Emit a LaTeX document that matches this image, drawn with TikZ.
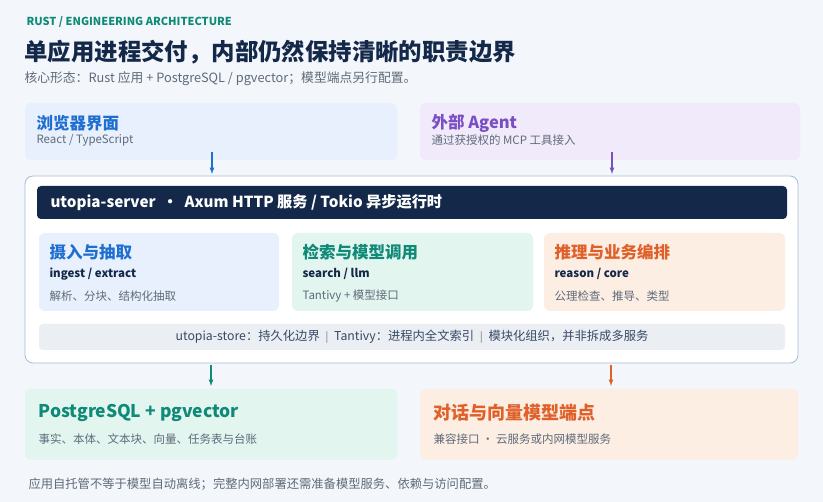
\documentclass[tikz,border=0pt]{standalone}
\usepackage{fontspec}
\setmainfont{Noto Sans CJK SC}
\usepackage{tikz}
\usetikzlibrary{positioning}
\definecolor{bgpage}{HTML}{F3F6FA}
\definecolor{navy}{HTML}{14294A}
\definecolor{tealc}{HTML}{0F8A78}
\definecolor{bluec}{HTML}{1F6FD1}
\definecolor{purplec}{HTML}{7A4FC4}
\definecolor{orangec}{HTML}{E0602A}
\definecolor{grayc}{HTML}{5F6B7A}
\definecolor{bluebg}{HTML}{E7F0FC}
\definecolor{purplebg}{HTML}{F1EAFA}
\definecolor{mintbg}{HTML}{E3F5EF}
\definecolor{peachbg}{HTML}{FCEEE3}
\definecolor{stripbg}{HTML}{EBEFF4}
\definecolor{frame}{HTML}{A9BCD3}
\tikzset{
  box/.style={rounded corners=6pt, draw=none},
  head/.style={anchor=west, font=\fontsize{16.5}{19}\selectfont\bfseries},
  sub/.style={anchor=west, text=grayc, font=\fontsize{11.5}{13}\selectfont},
  code/.style={anchor=west, text=navy, font=\fontsize{11.5}{14}\selectfont\bfseries},
  flow/.style={-latex, line width=1.2pt},
}
\begin{document}
\begin{tikzpicture}[x=1pt, y=-1pt]
  \fill[bgpage] (0,0) rectangle (823,502);
  % heading
  \node[anchor=west, text=tealc, font=\fontsize{11}{13}\selectfont\bfseries] (kicker) at (23,22) {RUST / ENGINEERING ARCHITECTURE};
  \node[anchor=west, text=navy, font=\fontsize{23.4}{27}\selectfont\bfseries] (title) at (21,52) {单应用进程交付，内部仍然保持清晰的职责边界};
  \node[sub, font=\fontsize{12.8}{15}\selectfont] (lead) at (21,79) {核心形态：Rust 应用 + PostgreSQL / pgvector；模型端点另行配置。};
  % clients
  \fill[box, bluebg] (25,103) rectangle (397,160);
  \fill[box, purplebg] (420,103) rectangle (800,160);
  \node[head, text=bluec] (browser) at (33,123) {浏览器界面};
  \node[sub] (browsersub) at (33,140) {React / TypeScript};
  \node[head, text=purplec] (agent) at (428,123) {外部 Agent};
  \node[sub] (agentsub) at (428,140) {通过获授权的 MCP 工具接入};
  % server
  \draw[rounded corners=8pt, fill=white, draw=frame, line width=0.8pt] (25,176) rectangle (798,363);
  \fill[rounded corners=4pt, navy] (37,186) rectangle (787,219);
  \node[anchor=west, text=white, font=\fontsize{15.2}{18}\selectfont\bfseries] (server) at (47,203) {utopia-server \ \textbullet\ \ Axum HTTP 服务 / Tokio 异步运行时};
  \fill[box, bluebg] (39,233) rectangle (279,311);
  \fill[box, mintbg] (292,233) rectangle (533,311);
  \fill[box, peachbg] (544,233) rectangle (785,311);
  \node[head, text=bluec] (ingest) at (46,252) {摄入与抽取};
  \node[code] (ingestcode) at (46,274) {ingest / extract};
  \node[sub] (ingestsub) at (46,296) {解析、分块、结构化抽取};
  \node[head, text=tealc] (search) at (299,252) {检索与模型调用};
  \node[code] (searchcode) at (299,274) {search / llm};
  \node[sub] (searchsub) at (299,296) {Tantivy + 模型接口};
  \node[head, text=orangec] (reason) at (551,252) {推理与业务编排};
  \node[code] (reasoncode) at (551,274) {reason / core};
  \node[sub] (reasonsub) at (551,296) {公理检查、推导、类型};
  \fill[rounded corners=4pt, stripbg] (39,324) rectangle (785,350);
  \node[text=navy!85, font=\fontsize{12.3}{14}\selectfont] (store) at (412,337) {utopia-store：持久化边界 \ $|$\ \ Tantivy：进程内全文索引 \ $|$\ \ 模块化组织，并非拆成多服务};
  % backends
  \fill[box, mintbg] (25,389) rectangle (397,460);
  \fill[box, peachbg] (420,389) rectangle (798,460);
  \node[head, text=tealc, font=\fontsize{17.5}{20}\selectfont\bfseries] (pg) at (35,413) {PostgreSQL + pgvector};
  \node[sub] (pgsub) at (35,439) {事实、本体、文本块、向量、任务表与台账};
  \node[head, text=orangec, font=\fontsize{18}{21}\selectfont\bfseries] (llm) at (430,413) {对话与向量模型端点};
  \node[sub] (llmsub) at (430,439) {兼容接口 · 云服务或内网模型服务};
  % flows
  \coordinate (b1) at (212,152); \coordinate (b2) at (212,174);
  \coordinate (a1) at (612,152); \coordinate (a2) at (612,174);
  \coordinate (p1) at (211,365); \coordinate (p2) at (211,386);
  \coordinate (m1) at (611,365); \coordinate (m2) at (611,386);
  \draw[flow, bluec] (b1) -- (b2);
  \draw[flow, purplec] (a1) -- (a2);
  \draw[flow, tealc] (p1) -- (p2);
  \draw[flow, orangec] (m1) -- (m2);
  \node[sub, font=\fontsize{12.3}{14}\selectfont] (foot) at (25,484) {应用自托管不等于模型自动离线；完整内网部署还需准备模型服务、依赖与访问配置。};
\end{tikzpicture}
\end{document}
